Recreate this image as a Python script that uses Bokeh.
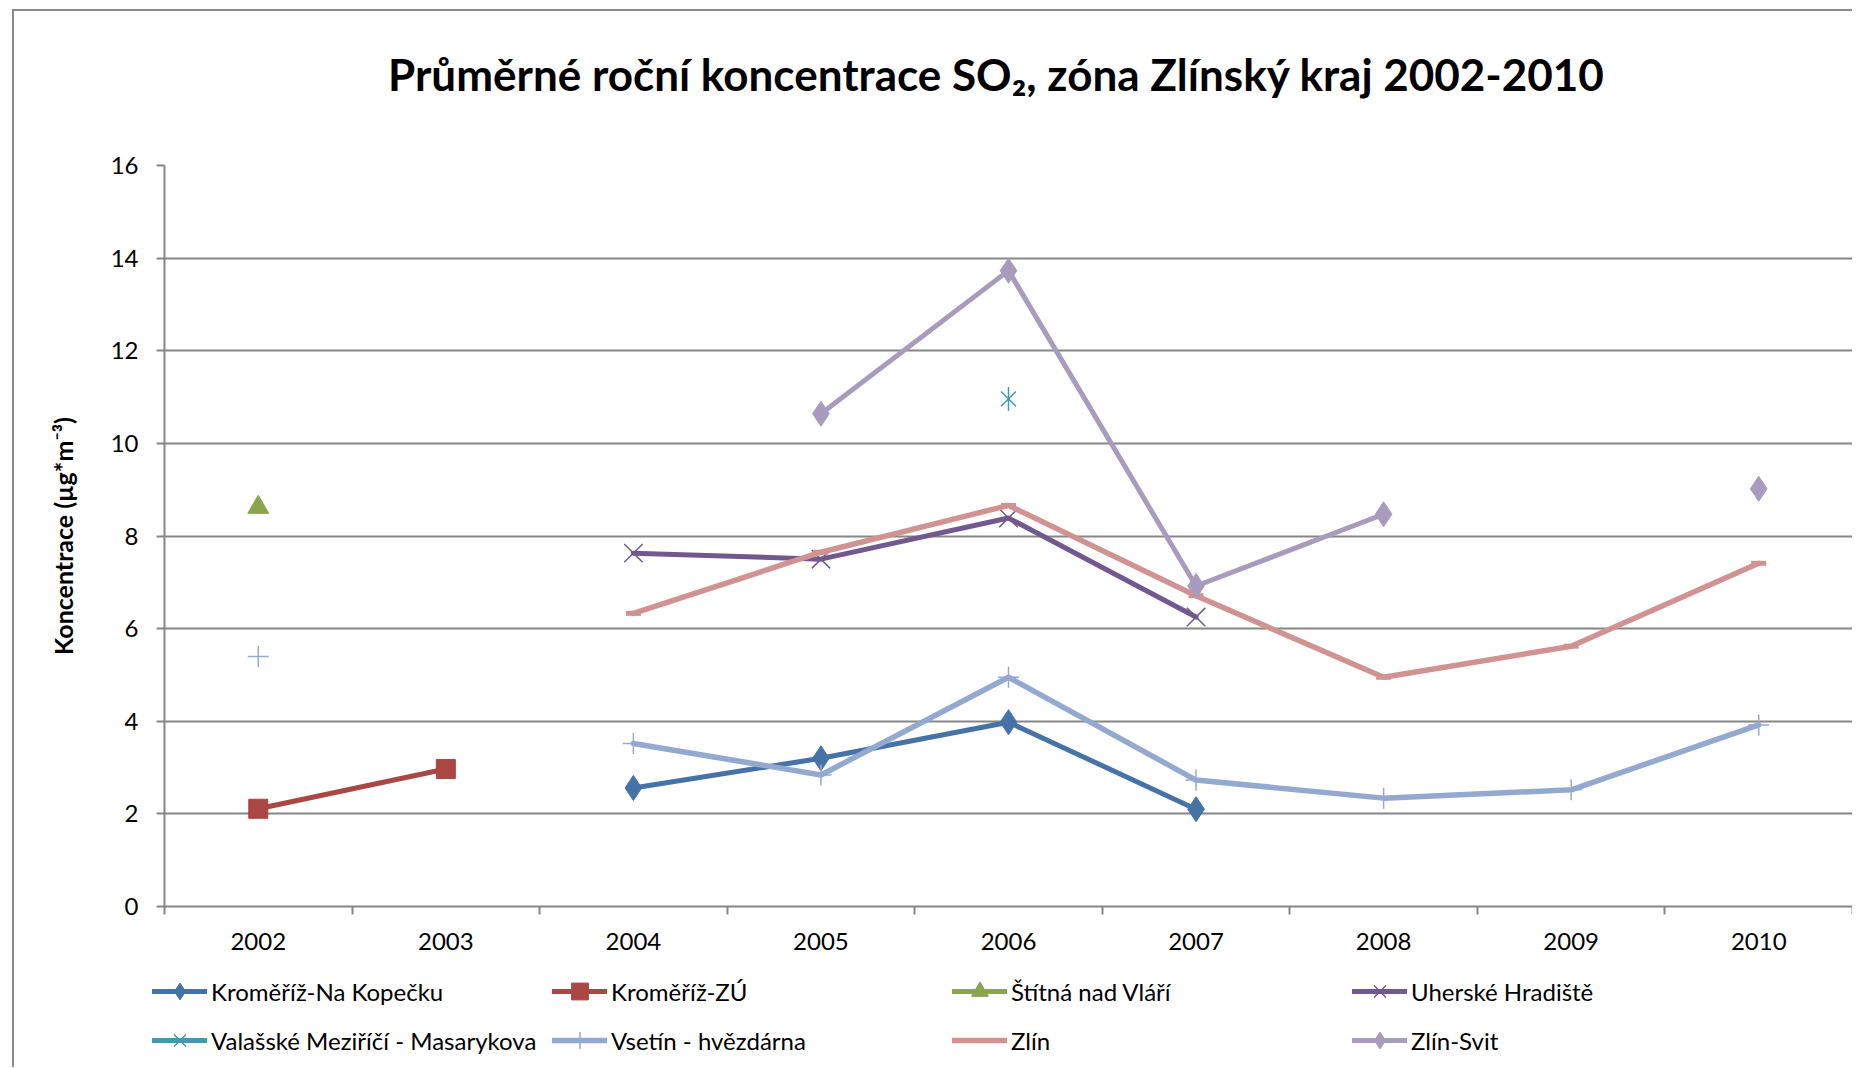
import math
import numpy as np
from bokeh.plotting import figure
from bokeh.layouts import column
from bokeh.models import FixedTicker, Legend, LegendItem, Range1d, Label
from bokeh.embed import file_html
from bokeh.resources import INLINE

years = [2002, 2003, 2004, 2005, 2006, 2007, 2008, 2009, 2010]
nan = float("nan")

kromeriz_na_kopecku = [nan, nan, 2.56, 3.20, 3.98, 2.10, nan, nan, nan]
kromeriz_zu = [2.11, 2.97, nan, nan, nan, nan, nan, nan, nan]
stitna_nad_vlari = [8.62, nan, nan, nan, nan, nan, nan, nan, nan]
uherske_hradiste = [nan, nan, 7.63, 7.50, 8.39, 6.25, nan, nan, nan]
valasske_mezirici = [nan, nan, nan, nan, 10.96, nan, nan, nan, nan]
vsetin_hvezdarna = [5.40, nan, 3.52, 2.84, 4.95, 2.73, 2.34, 2.52, 3.92]
zlin = [nan, nan, 6.33, 7.65, 8.66, 6.71, 4.95, 5.62, 7.41]
zlin_svit = [nan, nan, nan, 10.64, 13.73, 6.92, 8.47, nan, 9.02]

y_ticks = [0, 2, 4, 6, 8, 10, 12, 14, 16]

TITLE = "Průměrné roční koncentrace SO₂, zóna Zlínský kraj 2002-2010"

series = [
    ("Kroměříž-Na Kopečku", kromeriz_na_kopecku, "#4572A7", "diamond", 25, 5),
    ("Kroměříž-ZÚ", kromeriz_zu, "#AA4643", "square", 19, 5),
    ("Štítná nad Vláří", stitna_nad_vlari, "#89A54E", "triangle", 21, 5),
    ("Uherské Hradiště", uherske_hradiste, "#71588F", "x", 26, 5),
    ("Valašské Meziříčí - Masarykova", valasske_mezirici, "#4198AF", "star", 24, 5),
    ("Vsetín - hvězdárna", vsetin_hvezdarna, "#93A9CF", "cross", 21, 5.5),
    ("Zlín", zlin, "#D19392", "dash", 15, 5.5),
    ("Zlín-Svit", zlin_svit, "#A99BBD", "diamond", 25, 5),
]

GRID = "#868686"

# title strip
tf = figure(
    width=1838, height=124, x_range=Range1d(0, 1), y_range=Range1d(0, 1),
    x_axis_type=None, y_axis_type=None,
    output_backend="svg", toolbar_location=None, min_border=0,
)
tf.outline_line_color = None
tf.border_fill_color = "white"
tf.add_layout(Label(
    x=832, y=62, x_units="screen", y_units="screen", text=TITLE,
    text_font="Lato", text_font_style="bold", text_font_size="44px",
    text_color="black", text_align="center", text_baseline="middle",
))

p = figure(
    width=1838, height=827,
    x_range=Range1d(2001.5, 2010.5), y_range=Range1d(0, 16),
    output_backend="svg", toolbar_location=None,
    min_border_left=150, min_border_right=0, min_border_top=30, min_border_bottom=56,
)
p.outline_line_color = None
p.background_fill_color = "white"
p.border_fill_color = "white"

# axes
p.xaxis.ticker = FixedTicker(ticks=years, minor_ticks=[2001.5 + i for i in range(10)])
p.xaxis.major_tick_line_color = None
p.xaxis.major_tick_out = 0
p.xaxis.major_tick_in = 0
p.xaxis.minor_tick_out = 8
p.xaxis.minor_tick_in = 0
p.xaxis.minor_tick_line_color = GRID
p.xaxis.minor_tick_line_width = 2
p.xaxis.major_label_standoff = 18

p.yaxis.ticker = FixedTicker(ticks=y_ticks)
p.yaxis.major_tick_out = 8
p.yaxis.major_tick_in = 0
p.yaxis.minor_tick_line_color = None
p.yaxis.major_tick_line_color = GRID
p.yaxis.major_tick_line_width = 2
p.yaxis.major_label_standoff = 18
p.yaxis.axis_label = "Koncentrace (µg*m⁻³)"
p.yaxis.axis_label_text_font = "Lato"
p.yaxis.axis_label_text_font_style = "bold"
p.yaxis.axis_label_text_font_size = "25px"
p.yaxis.axis_label_text_color = "black"
p.yaxis.axis_label_standoff = 30

for ax in (p.xaxis[0], p.yaxis[0]):
    ax.axis_line_color = GRID
    ax.axis_line_width = 2
    ax.major_label_text_font = "Lato"
    ax.major_label_text_font_size = "24px"
    ax.major_label_text_color = "black"

p.xgrid.grid_line_color = None
p.ygrid.ticker = FixedTicker(ticks=y_ticks)
p.ygrid.grid_line_color = GRID
p.ygrid.grid_line_width = 2

# legend strip below the chart: same series and styles, its data lies outside
# its (0..1) view, so only the legend glyphs are seen
lf = figure(
    width=1838, height=105, x_range=Range1d(0, 1), y_range=Range1d(0, 1),
    x_axis_type=None, y_axis_type=None,
    output_backend="svg", toolbar_location=None,
    min_border=0,
)
lf.outline_line_color = None
lf.border_fill_alpha = 0
lf.background_fill_alpha = 0
lf.margin = (0, 0, 0, -12)


def add_series(fig, xs, y, color, marker, size, lw):
    rs = [fig.line(xs, y, line_color=color, line_width=lw, line_cap="round", line_join="round")]
    if marker == "star":
        rs.append(fig.scatter(xs, y, marker="x", size=size - 3, line_color=color, line_width=1.5))
        rs.append(fig.scatter(xs, y, marker="dash", angle=math.pi / 2, size=size, line_color=color, line_width=1.5))
    elif marker in ("x", "cross"):
        rs.append(fig.scatter(xs, y, marker=marker, size=size, line_color=color, line_width=1.5))
    elif marker == "dash":
        rs.append(fig.scatter(xs, y, marker="dash", size=size, line_color=color, line_width=5))
    else:
        rs.append(fig.scatter(xs, y, marker=marker, size=size, fill_color=color, line_color=color, line_width=1))
    return rs


items = []
for name, vals, color, marker, size, lw in series:
    y = np.array(vals, dtype=float)
    add_series(p, years, y, color, marker, size, lw)
    rs = add_series(lf, years, y, color, marker, size, lw)
    items.append(LegendItem(label=name, renderers=rs))

legend = Legend(
    items=items, orientation="horizontal", ncols=4,
    location=(0, 6),
    glyph_width=55, glyph_height=42, label_height=42, label_width=334,
    label_standoff=4, spacing=7, padding=0, margin=0,
    border_line_color=None, background_fill_alpha=0,
    label_text_font="Lato", label_text_font_size="24px", label_text_color="black",
)
lf.add_layout(legend, "center")

layout = column(
    tf, p, lf,
    styles={"border-left": "2px solid #8a8a8a", "border-top": "2px solid #8a8a8a",
            "margin-left": "12px", "margin-top": "9px"},
)

open("out.html", "w").write(file_html(layout, INLINE))
